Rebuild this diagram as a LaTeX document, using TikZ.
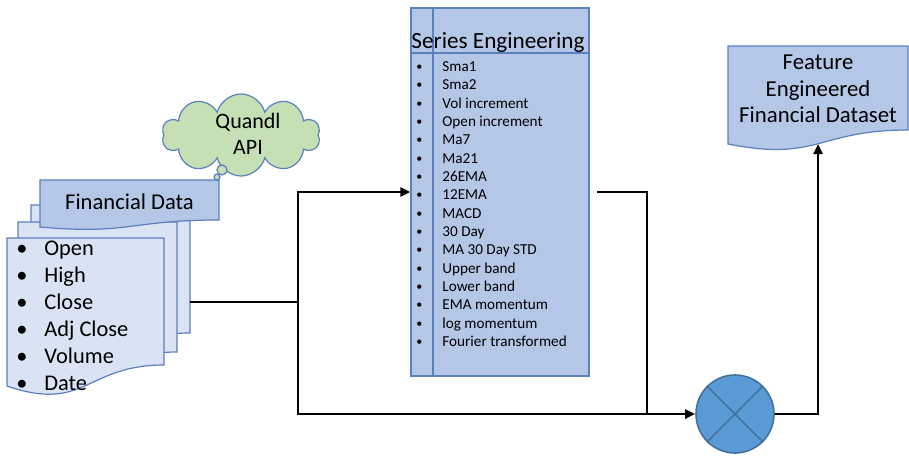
\documentclass[tikz,border=0pt]{standalone}
\usepackage{fontspec}
\setmainfont{Carlito}
\usetikzlibrary{arrows.meta}
\usetikzlibrary{shapes.symbols}
\tikzset{>={Triangle[length=5pt,width=4.5pt]}}
\colorlet{penColor}{black}
\definecolor{docLine}{HTML}{5B7FBF}
\definecolor{docFill}{HTML}{B4C7E7}
\definecolor{pageFill}{HTML}{DAE3F3}
\definecolor{cloudFill}{HTML}{C5E0B4}
\definecolor{mixFill}{HTML}{5B9BD5}
\definecolor{mixLine}{HTML}{41719C}
\tikzset{
  doc/.style={draw=docLine, fill=docFill, line width=0.6pt},
  page/.style={draw=docLine, fill=pageFill, line width=0.6pt},
  flow/.style={->, penColor, line width=1.2pt},
  wire/.style={penColor, line width=1.2pt},
  rowitem/.style={anchor=base west, inner sep=0pt, font=\fontsize{11.2}{13}\selectfont},
  seritem/.style={anchor=base west, inner sep=0pt, font=\fontsize{7.6}{9}\selectfont}
}

\begin{document}
\begin{tikzpicture}[x=0.5pt, y=-0.5pt]
\useasboundingbox (0,0) rectangle (909,456);

% stacked pages of the financial data
\draw [page] (31,205) -- (190,205) -- (190,333) .. controls (110.5,333) and (110.5,382) .. (31,355) -- cycle;
\draw [page] (18,222) -- (177,222) -- (177,352) .. controls (97.5,352) and (97.5,401) .. (18,373) -- cycle;
\draw [page] (7,238) -- (164,238) -- (164,365) .. controls (85.5,365) and (85.5,413) .. (7,386) -- cycle;
\draw [doc] (40,180) -- (219,180) -- (219,220) .. controls (129.5,220) and (129.5,235) .. (40,227) -- cycle;
\node [anchor=base, inner sep=0pt, font=\fontsize{11.3}{13}\selectfont] (fdtitle) at (129.5,209) {Financial Data};
\foreach \itm [count=\i] in {Open,High,Close,Adj Close,Volume,Date} {
  \node [rowitem] (fdbul\i) at (16,228+27*\i) {\textbullet};
  \node [rowitem] (fd\i) at (44,228+27*\i) {\itm};
}
\coordinate (stackout) at (190,302);

% quandl cloud
\node [cloud, cloud puffs=10, cloud ignores aspect, draw=docLine, fill=cloudFill, line width=0.6pt,
       minimum width=79pt, minimum height=41pt, inner sep=0pt] (api) at (241,135) {};
\node [align=center, inner sep=0pt, font=\fontsize{11}{13}\selectfont] (apitext) at (248,134) {Quandl\\API};
\draw [draw=docLine, fill=cloudFill, line width=0.6pt] (222,170) circle [radius=5];
\draw [draw=docLine, fill=cloudFill, line width=0.6pt] (217,177) circle [radius=3];

% series engineering box
\node [draw=docLine, fill=docFill, line width=0.6pt, minimum width=89pt, minimum height=184pt, inner sep=0pt] (series) at (500,192) {};
\draw [docLine, line width=0.6pt] (433,8) -- (433,376);
\draw [docLine, line width=0.6pt] (411,53) -- (589,53);
\node [anchor=base, inner sep=0pt, font=\fontsize{11.6}{13}\selectfont] (sertitle) at (498,48.3) {Series Engineering};
\foreach \itm [count=\i] in {Sma1,Sma2,Vol increment,Open increment,Ma7,Ma21,26EMA,12EMA,MACD,30 Day,MA 30 Day STD,Upper band,Lower band,EMA momentum,log momentum,Fourier transformed} {
  \node [seritem, font=\fontsize{6}{7}\selectfont] (serbul\i) at (416,52.2+18.33*\i) {\textbullet};
  \node [seritem] (ser\i) at (442,53.2+18.33*\i) {\itm};
}
\coordinate (seriesout) at (597,192);

% combining node
\node [circle, draw=mixLine, fill=mixFill, line width=0.8pt, minimum size=39pt, inner sep=0pt] (mixer) at (735,414) {};
\draw [mixLine, line width=0.8pt] (mixer.north west) -- (mixer.south east);
\draw [mixLine, line width=0.8pt] (mixer.north east) -- (mixer.south west);

% output dataset
\draw [doc] (728,46) -- (908,46) -- (908,130) .. controls (818,130) and (818,162) .. (728,144) -- cycle;
\node [align=center, inner sep=0pt, font=\fontsize{11.4}{13.3}\selectfont] (feattext) at (818,89) {Feature\\Engineered\\Financial Dataset};
\coordinate (featin) at (818,144);

% connectors
\coordinate (split) at (298,302);
\coordinate (merge) at (647,414);
\draw [wire] (stackout) -- (split);
\draw [flow] (split) |- (series.west);
\draw [flow] (split) |- (mixer.west);
\draw [wire] (seriesout) -| (merge);
\draw [flow] (mixer.east) -| (featin);
\end{tikzpicture}
\end{document}
